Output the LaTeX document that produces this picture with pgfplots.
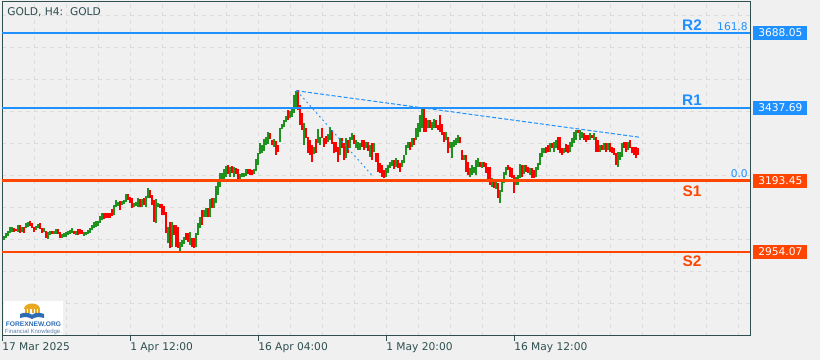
\documentclass[border=0pt]{standalone}
\usepackage{pgfplots}
\pgfplotsset{compat=1.18}
\usepackage{pgfplotstable}
\usepackage{fontspec}
\setmainfont{DejaVu Sans}
\newfontfamily\lblfont{Liberation Sans}
\definecolor{bgc}{HTML}{F0F0F0}
\definecolor{frame}{HTML}{2F4F4F}
\definecolor{gridc}{HTML}{DCDCDC}
\definecolor{upc}{RGB}{30,145,30}
\definecolor{dnc}{HTML}{FF0000}
\definecolor{rcol}{HTML}{1E90FF}
\definecolor{scol}{HTML}{FF4500}
\definecolor{logogold}{HTML}{E8A820}
\definecolor{logoblue}{HTML}{2E6DB4}
\definecolor{logotxt}{HTML}{5A7FA8}

\pgfplotstableread{
k h l
0 3008 2994
1 3017 3000
2 3026 3008
3 3037 3017
4 3037 3022
7 3045 3022
9 3039 3022
11 3052 3033
12 3056 3039
16 3042 3028
17 3047 3033
20 3033 3022
22 3022 2997
23 3026 3011
25 3024 3014
26 3030 3014
29 3014 3000
30 3019 3003
31 3022 3006
32 3026 3011
33 3028 3014
34 3033 3017
36 3026 3011
40 3022 3008
41 3022 3011
42 3028 3014
43 3036 3019
44 3045 3028
45 3056 3033
46 3058 3039
47 3058 3041
48 3075 3052
49 3084 3061
55 3112 3078
56 3128 3106
57 3123 3108
59 3126 3112
60 3128 3114
61 3148 3123
65 3119 3104
66 3123 3108
67 3134 3106
69 3131 3106
71 3142 3104
72 3168 3134
76 3131 3050
77 3117 3104
82 3039 2983
84 3056 2972
88 2989 2955
89 2994 2972
90 3003 2981
93 3022 2978
96 3017 2972
97 3050 3011
98 3073 3033
100 3095 3073
101 3103 3072
103 3133 3072
105 3134 3100
106 3175 3117
107 3193 3145
108 3218 3173
109 3218 3190
110 3231 3195
111 3242 3204
113 3238 3207
115 3238 3207
118 3214 3195
119 3218 3204
120 3218 3207
121 3231 3209
125 3231 3215
126 3265 3227
127 3285 3246
128 3318 3282
129 3313 3285
130 3332 3294
131 3341 3313
132 3357 3316
135 3332 3307
138 3368 3324
139 3383 3365
140 3396 3374
141 3410 3391
143 3428 3402
144 3441 3408
145 3480 3419
146 3495 3441
150 3385 3313
155 3307 3282
157 3365 3318
158 3341 3313
162 3348 3324
163 3374 3329
168 3335 3279
171 3335 3268
173 3341 3302
174 3352 3329
176 3329 3302
177 3324 3296
178 3318 3296
181 3324 3302
183 3313 3274
185 3318 3290
191 3234 3207
192 3246 3218
193 3257 3234
194 3262 3243
196 3268 3240
199 3262 3240
200 3279 3251
201 3313 3279
202 3324 3302
204 3337 3307
206 3369 3329
207 3385 3341
208 3413 3357
209 3436 3369
212 3396 3369
214 3391 3363
215 3400 3369
221 3357 3329
223 3324 3302
224 3324 3268
225 3329 3307
226 3337 3313
227 3346 3318
230 3279 3262
233 3234 3207
234 3246 3212
235 3240 3218
236 3262 3212
237 3268 3240
239 3257 3237
244 3201 3173
246 3190 3165
248 3162 3117
249 3190 3156
250 3223 3184
251 3240 3212
256 3207 3179
257 3212 3179
258 3248 3201
260 3246 3214
263 3237 3212
266 3240 3207
267 3251 3229
268 3285 3246
269 3302 3274
270 3302 3285
273 3318 3290
275 3324 3290
276 3329 3302
280 3302 3285
283 3324 3290
284 3335 3307
285 3357 3318
286 3363 3329
288 3363 3329
289 3357 3335
293 3352 3329
295 3352 3329
298 3313 3290
300 3318 3296
302 3318 3296
307 3290 3240
308 3290 3262
309 3318 3274
312 3324 3296
}\upbars

\pgfplotstableread{
k h l
5 3036 3022
6 3032 3024
8 3045 3019
10 3039 3019
13 3058 3042
14 3050 3033
15 3039 3022
18 3050 3030
19 3036 3019
21 3024 3002
24 3026 3014
27 3030 3014
28 3022 3000
35 3026 3013
37 3030 3011
38 3030 3014
39 3028 3014
50 3086 3064
51 3086 3067
52 3086 3069
53 3084 3067
54 3097 3075
58 3126 3095
62 3148 3128
63 3137 3119
64 3134 3100
68 3132 3106
70 3134 3112
73 3162 3134
74 3145 3112
75 3128 3056
78 3115 3100
79 3115 3078
80 3108 3078
81 3089 3017
83 3056 2966
85 3045 3011
86 3045 2972
87 3039 2966
91 3017 2994
92 3019 2989
94 3000 2972
95 3000 2966
99 3095 3045
102 3103 3070
104 3134 3100
112 3244 3215
114 3242 3220
116 3234 3215
117 3231 3195
122 3231 3215
123 3231 3212
124 3229 3212
133 3352 3332
134 3329 3313
136 3326 3279
137 3313 3290
142 3430 3396
147 3497 3430
148 3447 3380
149 3419 3363
151 3368 3335
152 3341 3287
153 3329 3279
154 3313 3257
156 3332 3285
159 3368 3335
160 3335 3307
161 3344 3315
164 3363 3315
165 3324 3285
166 3324 3290
167 3307 3257
169 3335 3302
170 3318 3262
172 3329 3285
175 3346 3315
179 3329 3307
180 3329 3296
182 3324 3293
184 3318 3262
186 3285 3257
187 3285 3223
188 3251 3218
189 3246 3207
190 3229 3201
195 3262 3232
197 3262 3234
198 3251 3223
203 3324 3296
205 3335 3313
210 3436 3357
211 3402 3357
213 3396 3369
216 3396 3369
217 3380 3363
218 3413 3357
219 3382 3346
220 3357 3324
222 3341 3285
228 3341 3318
229 3296 3262
231 3279 3223
232 3257 3212
238 3257 3240
240 3257 3240
241 3251 3218
242 3240 3190
243 3240 3179
245 3190 3170
247 3184 3134
252 3246 3229
253 3240 3207
254 3234 3201
255 3212 3151
259 3246 3207
261 3246 3223
262 3240 3218
264 3234 3203
265 3229 3201
271 3307 3285
272 3313 3290
274 3318 3302
277 3341 3296
278 3341 3285
279 3302 3279
281 3315 3290
282 3313 3285
287 3363 3352
290 3352 3329
291 3346 3324
292 3346 3329
294 3346 3335
296 3341 3290
297 3329 3290
299 3313 3296
301 3318 3290
303 3318 3290
304 3307 3285
305 3302 3279
306 3285 3246
310 3324 3302
311 3324 3290
313 3329 3302
314 3307 3285
315 3307 3279
316 3307 3268
317 3302 3279
}\downbars

\begin{document}
\begin{tikzpicture}[x=0.75pt,y=0.75pt]
\fill[bgc] (0,0) rectangle (820,360);
\begin{axis}[
  at={(1.5pt,18pt)}, anchor=south west, scale only axis,
  width=561pt, height=250.5pt,
  xmin=-1, xmax=373, ymin=2672.55, ymax=3791.95,
  enlargelimits=false, clip=false,
  axis line style={draw=frame, line width=0.75pt},
  xtick={-1,63,127,191,255},
  xticklabels={17 Mar 2025, 1 Apr 12:00, 16 Apr 04:00, 1 May 20:00, 16 May 12:00},
  minor xtick={15,31,47,79,95,111,143,159,175,207,223,239,271,287,303,319,335,351,367},
  xtick pos=left,
  tick align=outside,
  major tick length=3.75pt,
  minor tick length=0pt,
  xtick style={draw=frame, line width=0.75pt},
  ytick={2781.45,2888.7,2995.95,3103.2,3210.45,3317.7,3424.95,3532.2,3639.45,3746.7},
  yticklabels={},
  ytick style={draw=none},
  xmajorgrids, xminorgrids, ymajorgrids,
  major grid style={draw=gridc, dash pattern=on 3pt off 3pt, line width=0.75pt},
  minor grid style={draw=gridc, dash pattern=on 3pt off 3pt, line width=0.75pt},
  xticklabel style={anchor=north west, inner sep=0pt, yshift=-1.2pt, font=\fontsize{8}{9.6}\selectfont, text=frame},
]
\addplot[draw=none, mark=none, forget plot,
  error bars/.cd, y dir=plus, y explicit, error mark=none,
  error bar style={line width=0.8pt, draw=upc, solid}]
  table[x=k, y=l, y error expr=\thisrow{h}-\thisrow{l}] {\upbars};
\addplot[draw=none, mark=none, forget plot,
  error bars/.cd, y dir=plus, y explicit, error mark=none,
  error bar style={line width=0.8pt, draw=dnc, solid}]
  table[x=k, y=l, y error expr=\thisrow{h}-\thisrow{l}] {\downbars};

\addplot[draw=rcol, line width=1.5pt, mark=none] coordinates {(-1,3688.05) (373,3688.05)};
\addplot[draw=rcol, line width=1.5pt, mark=none] coordinates {(-1,3437.69) (373,3437.69)};
\addplot[draw=scol, line width=1.75pt, mark=none] coordinates {(-1,3193.45) (373,3193.45)};
\addplot[draw=scol, line width=1.75pt, mark=none] coordinates {(-1,2954.07) (373,2954.07)};

\addplot[draw=rcol, line width=0.75pt, mark=none, dash pattern=on 3pt off 1.5pt] coordinates {(146,3494.7) (318,3338.5)};
\addplot[draw=rcol, line width=0.75pt, mark=none, dash pattern=on 1.2pt off 2.4pt] coordinates {(146.5,3493.6) (184.75,3205.4)};

\node[anchor=base, inner sep=0pt, text=rcol, font=\lblfont\bfseries\fontsize{11.5}{12}\selectfont] at (axis cs:344,3695) {R2};
\node[anchor=base, inner sep=0pt, text=rcol, font=\lblfont\bfseries\fontsize{11.5}{12}\selectfont] at (axis cs:344,3444.4) {R1};
\node[anchor=base, inner sep=0pt, text=scol, font=\lblfont\bfseries\fontsize{11.5}{12}\selectfont] at (axis cs:344,3141.7) {S1};
\node[anchor=base, inner sep=0pt, text=scol, font=\lblfont\bfseries\fontsize{11.5}{12}\selectfont] at (axis cs:344,2904.8) {S2};
\node[anchor=base east, inner sep=0pt, text=rcol, font=\fontsize{8}{9.6}\selectfont] at (axis cs:372,3695) {161.8};
\node[anchor=base east, inner sep=0pt, text=rcol, font=\fontsize{8}{9.6}\selectfont] at (axis cs:372,3205.4) {0.0};

\node[anchor=west, fill=rcol, text=white, minimum height=10.5pt, inner ysep=0pt, inner xsep=3.75pt, xshift=2.25pt, font=\fontsize{8}{9}\selectfont] at (axis cs:373,3688.05) {3688.05};
\node[anchor=west, fill=rcol, text=white, minimum height=10.5pt, inner ysep=0pt, inner xsep=3.75pt, xshift=2.25pt, font=\fontsize{8}{9}\selectfont] at (axis cs:373,3437.69) {3437.69};
\node[anchor=west, fill=scol, text=white, minimum height=10.5pt, inner ysep=0pt, inner xsep=3.75pt, xshift=2.25pt, font=\fontsize{8}{9}\selectfont] at (axis cs:373,3193.45) {3193.45};
\node[anchor=west, fill=scol, text=white, minimum height=10.5pt, inner ysep=0pt, inner xsep=3.75pt, xshift=2.25pt, font=\fontsize{8}{9}\selectfont] at (axis cs:373,2954.07) {2954.07};
\end{axis}

% title
\node[anchor=base west, inner sep=0pt, text=frame, font=\fontsize{8}{9.6}\selectfont] at (7,344) {GOLD, H4:\ \ GOLD};

% logo
\fill[white] (4,25) rectangle (63,59);
\fill[logogold] (24,51) arc[start angle=180, end angle=0, x radius=8, y radius=5.5];
\fill[logogold] (24.5,46.5) rectangle (39.5,51);
\fill[white] (27,47) rectangle (28.2,50.5);
\fill[white] (30.3,47) rectangle (31.5,50.5);
\fill[white] (33.6,47) rectangle (34.8,50.5);
\fill[white] (36.9,47) rectangle (38.1,50.5);
\fill[logoblue] (20,46) .. controls (25,48) and (29,47.5) .. (32,45.2) .. controls (35,47.5) and (39,48) .. (44,46) -- (44,42) .. controls (39,43.5) and (35,43) .. (32,41) .. controls (29,43) and (25,43.5) .. (20,42) -- cycle;
\node[anchor=base, inner sep=0pt, text=logoblue, font=\lblfont\bfseries\fontsize{5}{6}\selectfont] at (33.5,33) {FOREXNEW.ORG};
\node[anchor=base, inner sep=0pt, text=logotxt, font=\lblfont\fontsize{4.5}{5}\selectfont] at (33.5,26.5) {Financial Knowledge.};

\pgfresetboundingbox
\useasboundingbox (0,0) rectangle (820,360);
\end{tikzpicture}
\end{document}
